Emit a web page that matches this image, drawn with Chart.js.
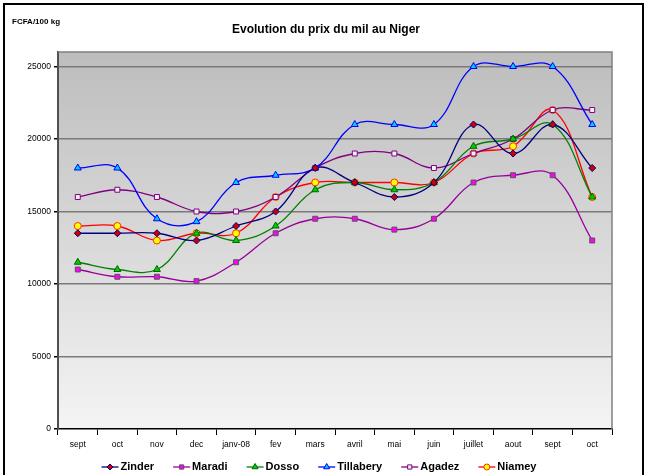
<!DOCTYPE html>
<html>
<head>
<meta charset="utf-8">
<script src="https://cdn.jsdelivr.net/npm/chart.js@4/dist/chart.umd.min.js"></script>
<style>
  body { margin: 0; background: #fff; }
  #wrap { position: relative; width: 648px; height: 475px; }
</style>
</head>
<body>
<div id="wrap"><canvas id="chart" width="648" height="475"></canvas></div>
<script>
// months from sept 2007 to oct 2008
var mois = ["sept", "oct", "nov", "dec", "janv-08", "fev", "mars", "avril", "mai", "juin", "juillet", "aout", "sept", "oct"];

var zinder    = [13500, 13500, 13500, 13000, 14000, 15000, 18000, 17000, 16000, 17000, 21000, 19000, 21000, 18000];
var maradi    = [11000, 10500, 10500, 10200, 11500, 13500, 14500, 14500, 13750, 14500, 17000, 17500, 17500, 13000];
var dosso     = [11500, 11000, 11000, 13500, 13000, 14000, 16500, 17000, 16500, 17000, 19500, 20000, 21000, 16000];
var tillabery = [18000, 18000, 14500, 14300, 17000, 17500, 18000, 21000, 21000, 21000, 25000, 25000, 25000, 21000];
var agadez    = [16000, 16500, 16000, 15000, 15000, 16000, 18000, 19000, 19000, 18000, 19000, 20000, 22000, 22000];
var niamey    = [14000, 14000, 13000, 13500, 13500, 16000, 17000, 17000, 17000, 17000, 19000, 19500, 22000, 16000];

var yTicks = [0, 5000, 10000, 15000, 20000, 25000];

function serie(label, data, line, fill, border, style, radius) {
    return {
        label: label,
        data: data,
        borderColor: line,
        borderWidth: 1.3,
        backgroundColor: fill,
        pointBackgroundColor: fill,
        pointBorderColor: border,
        pointBorderWidth: 1,
        pointStyle: style,
        pointRadius: radius,
        tension: 0.4,
        fill: false
    };
}

var fond = {
    id: 'fond',
    beforeDraw: function (chart) {
        var ctx = chart.ctx, a = chart.chartArea;
        var g = ctx.createLinearGradient(0, a.top, 0, a.bottom);
        g.addColorStop(0, '#bdbdbd');
        g.addColorStop(1, '#f4f4f4');
        ctx.save();
        ctx.fillStyle = g;
        ctx.fillRect(a.left, a.top, a.right - a.left, a.bottom - a.top);
        ctx.restore();
    },
    afterDraw: function (chart) {
        var ctx = chart.ctx, a = chart.chartArea;
        ctx.save();
        // plot border top/right
        ctx.strokeStyle = '#808080';
        ctx.lineWidth = 1.5;
        ctx.beginPath();
        ctx.moveTo(a.left, a.top);
        ctx.lineTo(a.right, a.top);
        ctx.lineTo(a.right, a.bottom);
        ctx.stroke();
        // outer frame
        ctx.strokeStyle = '#000';
        ctx.lineWidth = 2;
        ctx.strokeRect(4, 4, 639, 490);
        // texts
        ctx.fillStyle = '#000';
        ctx.textBaseline = 'middle';
        ctx.font = 'bold 12px "Liberation Sans", Arial, sans-serif';
        ctx.textAlign = 'center';
        ctx.fillText('Evolution du prix du mil au Niger', 326, 30);
        ctx.font = 'bold 8px "Liberation Sans", Arial, sans-serif';
        ctx.textAlign = 'left';
        ctx.fillText('FCFA/100 kg', 12, 22);
        // legend
        ctx.font = 'bold 11px "Liberation Sans", Arial, sans-serif';
        var ds = chart.data.datasets;
        var lineW = 17, gap = 2, sep = 19, total = 0;
        ds.forEach(function (d, i) {
            total += lineW + gap + ctx.measureText(d.label).width + (i < ds.length - 1 ? sep : 0);
        });
        var x = 319 - total / 2, y = 467;
        ds.forEach(function (d) {
            ctx.strokeStyle = d.borderColor;
            ctx.lineWidth = 1.3;
            ctx.beginPath();
            ctx.moveTo(x, y);
            ctx.lineTo(x + lineW, y);
            ctx.stroke();
            ctx.fillStyle = d.pointBackgroundColor;
            ctx.strokeStyle = d.pointBorderColor;
            ctx.lineWidth = 1;
            Chart.helpers.drawPoint(ctx, { pointStyle: d.pointStyle, radius: d.pointRadius - 0.5, borderWidth: 1, rotation: 0 }, x + lineW / 2, y);
            ctx.fillStyle = '#000';
            ctx.fillText(d.label, x + lineW + gap, y);
            x += lineW + gap + ctx.measureText(d.label).width + sep;
        });
        ctx.restore();
    }
};

new Chart(document.getElementById('chart'), {
    type: 'line',
    data: {
        labels: mois,
        datasets: [
            serie('Zinder', zinder, '#000080', '#cc0000', '#000080', 'rectRot', 3.5),
            serie('Maradi', maradi, '#990099', '#ff00ff', '#555555', 'rect', 3.5),
            serie('Dosso', dosso, '#008000', '#00cc00', '#006600', 'triangle', 4),
            serie('Tillabery', tillabery, '#0000ff', '#00ccff', '#0000ff', 'triangle', 4),
            serie('Agadez', agadez, '#800080', '#f2f2f2', '#800080', 'rect', 3.5),
            serie('Niamey', niamey, '#ff0000', '#ffff00', '#ff3300', 'circle', 3.5)
        ]
    },
    options: {
        responsive: false,
        animation: false,
        layout: { padding: { left: 8, top: 52, right: 36, bottom: 0 } },
        plugins: {
            legend: { display: false },
            title: { display: false },
            tooltip: { enabled: false }
        },
        scales: {
            x: {
                offset: true,
                afterFit: function (s) { s.height = 46; },
                grid: {
                    offset: true,
                    drawOnChartArea: false,
                    drawTicks: true,
                    tickLength: 6,
                    color: '#000'
                },
                border: { color: '#000', width: 1.5 },
                ticks: {
                    color: '#000',
                    padding: 5,
                    maxRotation: 0,
                    autoSkip: false,
                    font: { family: '"Liberation Sans", Arial, sans-serif', size: 8.5 }
                }
            },
            y: {
                min: 0,
                max: 26000,
                afterFit: function (s) { s.width = 50; },
                afterBuildTicks: function (s) {
                    s.ticks = yTicks.map(function (v) { return { value: v }; });
                },
                grid: {
                    color: function (c) { return c.tick && c.tick.value === 0 ? 'rgba(0,0,0,0)' : '#7a7a7a'; },
                    lineWidth: 1.5,
                    tickColor: '#000',
                    tickLength: 4
                },
                border: { color: '#505050', width: 2 },
                ticks: {
                    color: '#000',
                    padding: 3,
                    callback: function (v) { return String(v); },
                    font: { family: '"Liberation Sans", Arial, sans-serif', size: 8.5 }
                }
            }
        }
    },
    plugins: [fond]
});
</script>
</body>
</html>
